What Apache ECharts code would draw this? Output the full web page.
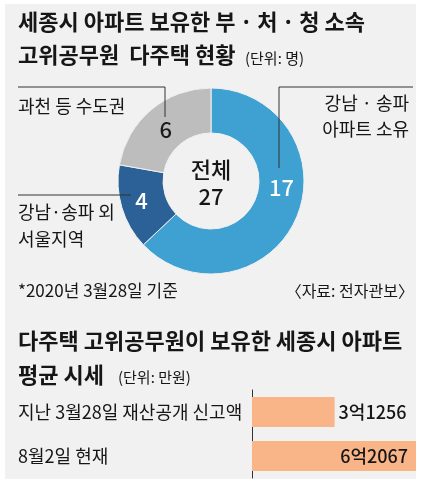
<!DOCTYPE html>
<html>
<head>
<meta charset="utf-8">
<script src="https://cdn.jsdelivr.net/npm/echarts@6/dist/echarts.min.js"></script>
<style>
html,body{margin:0;padding:0;background:#fff;}
#chart{width:421px;height:483px;}
</style>
</head>
<body>
<div id="chart"></div>
<script>
const pieCategories = ['강남 · 송파\n아파트 소유', '강남·송파 외\n서울지역', '과천 등 수도권'];
const pieValues = [17, 4, 6];
const barCategories = ['지난 3월28일 재산공개 신고액', '8월2일 현재'];
const barValues = [31256, 62067];

const FONT = '"Noto Sans CJK KR", "Noto Sans", sans-serif';
const TXT = '#161616';
const pieColors = ['#3fa1d1', '#2b6197', '#bdbdbd'];
const pieLabelColors = ['#ffffff', '#ffffff', '#1c1c1c'];
const total = pieValues.reduce((a, b) => a + b, 0);

function fmtWon(v) {
  return Math.floor(v / 10000) + '억' + (v % 10000);
}

function txt(x, y, text, size, opts) {
  opts = opts || {};
  return {
    type: 'text', x: x, y: y, z: 10, silent: true,
    style: {
      text: text, fontSize: size, fontFamily: FONT,
      fontWeight: opts.bold ? 'bold' : (opts.weight || 'normal'),
      fill: opts.color || TXT,
      align: opts.align || 'left', verticalAlign: 'middle',
      lineHeight: opts.lineHeight || size * 1.2
    }
  };
}
function line(points) {
  return {
    type: 'polyline', z: 10, silent: true,
    shape: { points: points },
    style: { stroke: '#333', lineWidth: 1, fill: null }
  };
}

const chart = echarts.init(document.getElementById('chart'), null, { renderer: 'canvas' });

const pieLabelLines0 = pieCategories[0].split('\n');
const pieLabelLines1 = pieCategories[1].split('\n');

chart.setOption({
  backgroundColor: '#ffffff',
  animation: false,
  graphic: [
    { type: 'rect', z: -10, silent: true, shape: { x: 5, y: 4, width: 411, height: 475 }, style: { fill: '#f1f1f1' } },
    txt(18, 22, '세종시 아파트 보유한 부\u2009·\u2009처\u2009·\u2009청 소속', 22, { bold: true }),
    txt(18, 55, '고위공무원  다주택 현황', 22, { bold: true }),
    txt(245, 58, '(단위: 명)', 15),
    // pie category labels and leader lines
    txt(18, 106, pieCategories[2], 18),
    line([[18, 87], [165, 87], [165, 117]]),
    txt(409, 103, pieLabelLines0[0], 18, { align: 'right' }),
    txt(409, 129, pieLabelLines0[1], 18, { align: 'right' }),
    line([[413, 87], [279, 87], [279, 168]]),
    txt(18, 212, pieLabelLines1[0], 18),
    txt(18, 239, pieLabelLines1[1], 18),
    line([[18, 195], [131, 195]]),
    // center
    txt(211, 170, '전체', 22, { align: 'center', weight: 500 }),
    txt(211, 197, String(total), 22, { align: 'center', weight: 500 }),
    // notes
    txt(18, 291, '*2020년 3월28일 기준', 17),
    txt(414, 291, '〈자료: 전자관보〉', 16, { align: 'right' }),
    // second title
    txt(18, 341, '다주택 고위공무원이 보유한 세종시 아파트', 22, { bold: true }),
    txt(18, 375, '평균 시세', 22, { bold: true }),
    txt(118, 377, '(단위: 만원)', 15)
  ],
  grid: { left: 252, right: 5, top: 390, bottom: 5, containLabel: false },
  xAxis: {
    type: 'value', min: 0, max: 'dataMax', show: false
  },
  yAxis: {
    type: 'category', inverse: true, data: barCategories,
    axisLine: { show: true, lineStyle: { color: '#333', width: 1 } },
    axisTick: { show: false },
    splitLine: { show: false },
    axisLabel: {
      align: 'left', margin: 234, fontSize: 18, fontFamily: FONT, color: TXT
    }
  },
  series: [
    {
      type: 'pie',
      center: [211, 181],
      radius: [48, 93],
      startAngle: 90,
      clockwise: true,
      silent: true,
      avoidLabelOverlap: false,
      itemStyle: { borderColor: '#f1f1f1', borderWidth: 1 },
      label: {
        show: true, position: 'inside', formatter: '{c}',
        fontSize: 22, fontWeight: 500, fontFamily: FONT
      },
      labelLine: { show: false },
      labelLayout: function (p) {
        const adj = [[3, -22], [1, -1], [2, 5]];
        return { dx: adj[p.dataIndex][0], dy: adj[p.dataIndex][1] };
      },
      data: pieValues.map((v, i) => ({
        value: v, name: pieCategories[i],
        itemStyle: { color: pieColors[i] },
        label: { color: pieLabelColors[i] }
      }))
    },
    {
      type: 'bar',
      barWidth: 30,
      silent: true,
      itemStyle: { color: '#f9b588' },
      data: barValues.map((v, i) => ({
        value: v,
        label: {
          show: true,
          position: i === barValues.length - 1 ? 'insideRight' : 'right',
          distance: i === barValues.length - 1 ? 8 : 4,
          formatter: (p) => fmtWon(p.value),
          fontSize: 18, fontWeight: 500, fontFamily: FONT, color: TXT
        }
      }))
    }
  ]
});
</script>
</body>
</html>
